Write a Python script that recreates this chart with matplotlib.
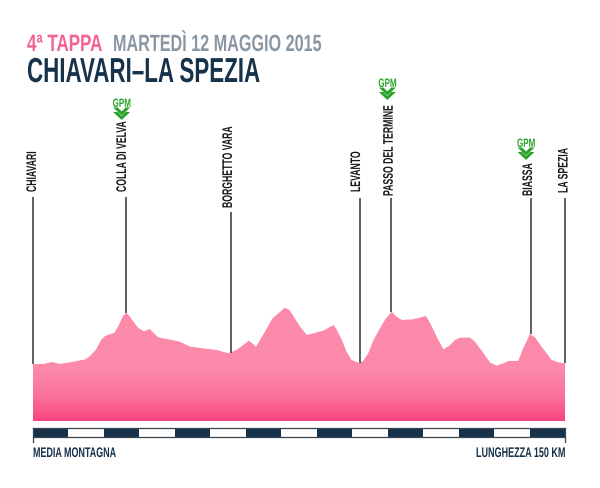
import numpy as np
import matplotlib
matplotlib.use("Agg")
import matplotlib.pyplot as plt
from matplotlib.colors import LinearSegmentedColormap
from matplotlib.patches import Polygon, Rectangle
from matplotlib.patheffects import AbstractPathEffect
from matplotlib.transforms import Affine2D

plt.rcParams['font.family'] = ['Liberation Sans', 'DejaVu Sans']

# profile: km from start, height in metres
km = [0, 2.9, 5.3, 7.6, 11.4, 14.7, 16.1, 17.8, 19.2, 20.3, 21.7, 23.0, 24.2, 25.3, 26.2, 27.2, 28.3, 29.7, 31.3, 33.0,
      34.1, 35.3, 37.7, 41.4, 44.3, 48.0, 51.8, 55.1, 57.4, 60.9, 62.9, 64.0, 65.4, 67.5, 69.2, 71.0, 72.3, 73.4, 75.3,
      77.2, 79.0, 81.9, 84.7, 85.6, 87.0, 88.4, 89.8, 91.7, 93.1, 94.5, 96.0, 97.8, 99.5, 101.1, 102.5, 104.0, 107.2,
      110.8, 112.0, 113.8, 115.7, 117.6, 119.0, 120.4, 123.2, 124.6, 126.5, 128.9, 130.7, 132.6, 134.0, 136.8, 138.2,
      140.1, 141.5, 143.4, 146.2, 148.1, 150]
height = [0, 0, 21, 0, 24, 48, 83, 152, 250, 291, 308, 326, 406, 492, 534, 499, 440, 374, 340, 364,
          319, 277, 260, 232, 180, 163, 146, 111, 146, 243, 180, 250, 336, 475, 527, 586, 562, 499, 388,
          302, 319, 347, 406, 360, 256, 128, 42, 14, 31, 111, 250, 371, 475, 544, 492, 458, 465,
          499, 423, 284, 152, 197, 250, 274, 274, 232, 139, 14, -17, 7, 31, 31, 163,
          312, 277, 180, 42, 17, 7]

place_names = ['CHIAVARI', 'COLLA DI VELVA', 'BORGHETTO VARA', 'LEVANTO', 'PASSO DEL TERMINE', 'BIASSA', 'LA SPEZIA']
place_km = [0, 26.2, 55.8, 92.2, 101.0, 140.4, 150]
place_height = [0, 534, 111, 14, 544, 312, 7]

# GPM climbs, with the height of the arrow tip on the picture's scale
gpm_km = [25.0, 99.9, 139.0]
gpm_tip = [2538, 2746, 2122]

PINK = '#f4628f'
GREY = '#8a97a3'
NAVY = '#17324b'
GREEN = '#2aa32a'
LINE = '#3f454b'

# scale of the picture
KM_PX = 3.547
M_PX = 10.4
BASE = -593
TOTAL = 150


def x_of(px):
    return (px - 33) / KM_PX


def y_of(px):
    return (364 - px) * M_PX


class Tall(AbstractPathEffect):
    # the reference font is condensed, so draw glyphs taller about the baseline
    def __init__(self, k):
        super().__init__()
        self.k = k

    def draw_path(self, renderer, gc, tpath, affine, rgbFace=None):
        renderer.draw_path(gc, tpath, Affine2D().scale(1, self.k) + affine, rgbFace)


def label(px, py, s, size, k, color, **kw):
    ax.text(x_of(px), y_of(py), s, fontsize=size, color=color, fontweight='bold', va='baseline',
            rotation_mode='anchor', path_effects=[Tall(k)], zorder=4, **kw)


fig = plt.figure(figsize=(6, 4.88), dpi=100)
ax = fig.add_axes([0, 0, 1, 1])

# filled profile with vertical gradient
cmap = LinearSegmentedColormap.from_list('pink', [(0, '#f8447e'), (0.2, '#fa6f98'), (0.45, '#fc8aaa'), (1, '#fc8aaa')])
grad = np.linspace(0, 1, 256).reshape(-1, 1)
img = ax.imshow(grad, cmap=cmap, origin='lower', aspect='auto', extent=[0, TOTAL, BASE, 600], zorder=1)
poly = Polygon(list(zip(km, height)) + [(TOTAL, BASE), (0, BASE)], closed=True, fc='none', ec='none', transform=ax.transData)
ax.add_patch(poly)
img.set_clip_path(poly)
ax.set_xlim(x_of(0), x_of(600))
ax.set_ylim(y_of(488), y_of(0))
ax.axis('off')

# place lines and names
line_top = [197, 197, 212, 198, 198, 198, 198]
name_bottom = [192, 192, 208, 192, 196, 196, 193]
name_shift = [3, 0, 1, 0, 1.5, 1, 2.5]
for name, x, h, top, bottom, shift in zip(place_names, place_km, place_height, line_top, name_bottom, name_shift):
    ax.plot([x, x], [h, y_of(top)], color=LINE, lw=1.2, zorder=2, solid_capstyle='butt')
    label(33 + x * KM_PX + shift, bottom, name, 6.25, 1.6, '#15181c', rotation=90, ha='left')

# GPM markers
for x, tip in zip(gpm_km, gpm_tip):
    for off in (0, 4.5):
        yt = tip + off * M_PX
        ax.add_patch(Polygon([(x, yt), (x + 8 / KM_PX, yt + 7.5 * M_PX), (x + 8 / KM_PX, yt + 8 * M_PX),
                              (x + 4 / KM_PX, yt + 8 * M_PX), (x, yt + 4 * M_PX),
                              (x - 4 / KM_PX, yt + 8 * M_PX), (x - 8 / KM_PX, yt + 8 * M_PX), (x - 8 / KM_PX, yt + 7.5 * M_PX)],
                             closed=True, fc=GREEN, ec='none', zorder=3))
    ax.text(x, tip + 13 * M_PX, 'GPM', ha='center', va='baseline', fontsize=5.8, color=GREEN, fontweight='bold',
            path_effects=[Tall(1.5)], zorder=4)

# distance bar, 10 km blocks
bar_low = -759
bar_high = -666
for i, start in enumerate(range(0, TOTAL, 10)):
    ax.add_patch(Rectangle((start, bar_low), 10, bar_high - bar_low, fc=NAVY if i % 2 == 0 else 'white', ec='none', zorder=2))
ax.plot([0, TOTAL], [bar_high, bar_high], color='#3a4650', lw=0.9, zorder=3)
ax.plot([0, TOTAL], [bar_low, bar_low], color='#3a4650', lw=0.9, zorder=3)
ax.plot([0, 0], [bar_high, -810], color='#3a4650', lw=0.9, zorder=3)
ax.plot([TOTAL, TOTAL], [bar_high, -810], color='#3a4650', lw=0.9, zorder=3)

label(33, 457, 'MEDIA MONTAGNA', 6.45, 1.55, NAVY, ha='left')
label(476, 457, 'LUNGHEZZA 150 KM', 6.5, 1.55, NAVY, ha='left')

# heading
label(27, 51, '4ª TAPPA', 12.2, 1.4, PINK, ha='left')
label(113, 51, 'MARTEDÌ 12 MAGGIO 2015', 11.65, 1.45, GREY, ha='left')
label(27, 82, 'CHIAVARI–LA SPEZIA', 16.1, 1.55, NAVY, ha='left')

fig.savefig('out.png', dpi=100)
